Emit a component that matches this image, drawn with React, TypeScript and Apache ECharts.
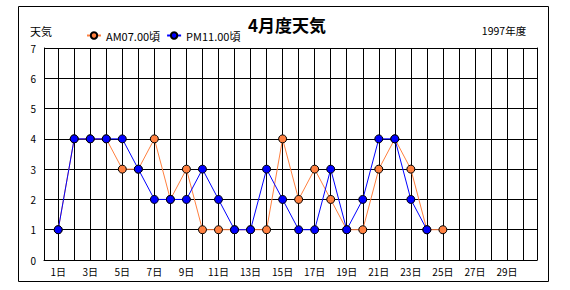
import React, { useEffect, useRef } from "react";
import * as echarts from "echarts";

const days = Array.from({ length: 30 }, (_, i) => i + 1);
const labelDays = [1, 3, 5, 7, 9, 11, 13, 15, 17, 19, 21, 23, 25, 27, 29];
const amValues = [1, 4, 4, 4, 3, 3, 4, 2, 3, 1, 1, 1, 1, 1, 4, 2, 3, 2, 1, 1, 3, 4, 3, 1, 1];
const pmValues = [1, 4, 4, 4, 4, 3, 2, 2, 2, 3, 2, 1, 1, 3, 2, 1, 1, 3, 1, 2, 4, 4, 2, 1];
const seriesNames = ["AM07.00頃", "PM11.00頃"];
const titleText = "4月度天気";
const yName = "天気";
const yearText = "1997年度";

const FONT = '"Noto Sans CJK JP", "Noto Sans", sans-serif';

export default function App() {
  const ref = useRef<HTMLDivElement>(null);
  useEffect(() => {
    if (!ref.current) return;
    const chart = echarts.init(ref.current, undefined, { renderer: "svg" });
    const toPairs = (vals: number[]) => vals.map((v, i) => [days[i], v]);
    chart.setOption({
      animation: false,
      backgroundColor: "#ffffff",
      textStyle: { fontFamily: FONT },
      title: {
        text: titleText,
        left: 248,
        top: 16,
        padding: 0,
        textStyle: { fontFamily: FONT, fontSize: 17, fontWeight: "bold", color: "#000" },
      },
      legend: {
        left: 86,
        top: 30,
        padding: 0,
        itemWidth: 14,
        itemHeight: 8,
        itemGap: 6,
        textStyle: { fontFamily: FONT, fontSize: 11, color: "#000" },
        data: seriesNames,
      },
      graphic: [
        {
          type: "rect",
          shape: { x: 18.5, y: 6.5, width: 530, height: 275 },
          style: { fill: "none", stroke: "#000", lineWidth: 1 },
          silent: true,
        },
        {
          type: "text",
          x: 41,
          y: 31,
          style: { text: yName, fontFamily: FONT, fontSize: 11, fill: "#000", textAlign: "center", textVerticalAlign: "middle" },
        },
        {
          type: "text",
          x: 504,
          y: 30,
          style: { text: yearText, fontFamily: FONT, fontSize: 10.5, fill: "#000", textAlign: "center", textVerticalAlign: "middle" },
        },
      ],
      grid: { left: 44, top: 48, width: 493, height: 212, containLabel: false },
      xAxis: {
        type: "value",
        min: 0.115,
        max: 30.87,
        axisLine: { show: true, lineStyle: { color: "#000", width: 1 } },
        axisTick: { show: false, customValues: days },
        splitLine: { show: true, lineStyle: { color: "#000", width: 1 } },
        axisLabel: {
          customValues: labelDays,
          formatter: (v: number) => `${v}日`,
          color: "#000",
          fontSize: 10,
          fontFamily: FONT,
          margin: 6,
        },
      },
      yAxis: [
        {
          type: "value",
          min: 0,
          max: 7,
          interval: 1,
          axisLine: { show: true, lineStyle: { color: "#000", width: 1 } },
          axisTick: { show: false },
          splitLine: { show: true, lineStyle: { color: "#000", width: 1 } },
          axisLabel: { color: "#000", fontSize: 10, fontFamily: FONT, margin: 8 },
        },
        {
          type: "value",
          position: "right",
          min: 0,
          max: 7,
          interval: 1,
          axisLine: { show: true, lineStyle: { color: "#000", width: 1 } },
          axisTick: { show: false },
          splitLine: { show: false },
          axisLabel: { show: false },
        },
      ],
      series: [
        {
          name: seriesNames[0],
          type: "line",
          data: toPairs(amValues),
          symbol: "circle",
          symbolSize: 8,
          itemStyle: { color: "#FF8040", borderColor: "#000", borderWidth: 1 },
          lineStyle: { color: "#FF8040", width: 1 },
        },
        {
          name: seriesNames[1],
          type: "line",
          data: toPairs(pmValues),
          symbol: "circle",
          symbolSize: 8,
          itemStyle: { color: "#0000FF", borderColor: "#000", borderWidth: 1 },
          lineStyle: { color: "#0000FF", width: 1 },
        },
      ],
    });
    return () => chart.dispose();
  }, []);
  return (
    <div
      ref={ref}
      style={{ position: "fixed", left: 0, top: 0, width: 570, height: 290, background: "#fff" }}
    />
  );
}
